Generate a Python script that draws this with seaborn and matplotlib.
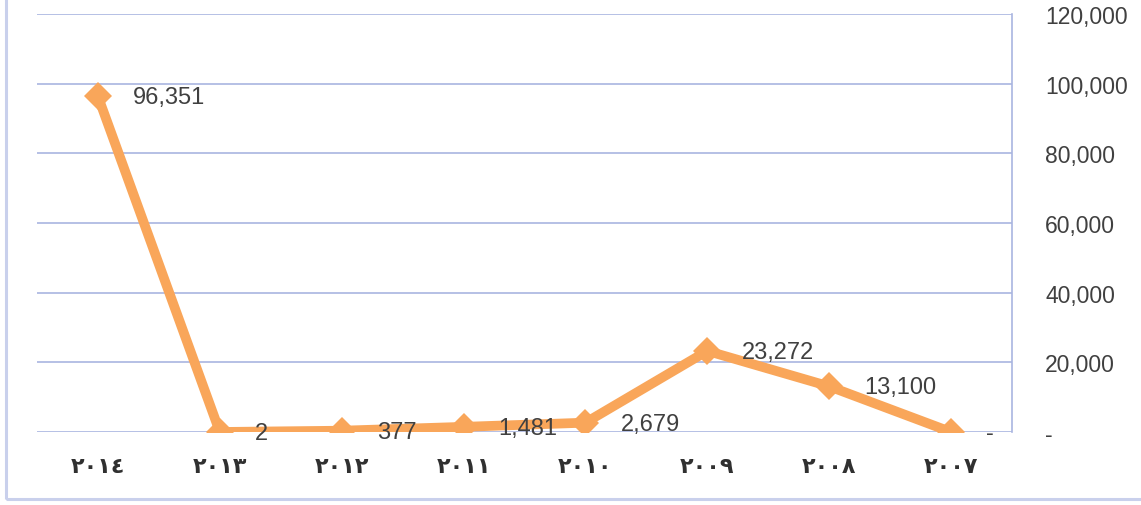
import matplotlib
matplotlib.use("Agg")
import matplotlib.pyplot as plt
import seaborn as sns
import pandas as pd
from matplotlib.patches import Rectangle

years = ["٢٠١٤", "٢٠١٣", "٢٠١٢", "٢٠١١", "٢٠١٠", "٢٠٠٩", "٢٠٠٨", "٢٠٠٧"]
values = [96351, 2, 377, 1481, 2679, 23272, 13100, 0]
data_labels = ["96,351", "2", "377", "1,481", "2,679", "23,272", "13,100", "-"]
yticks = [0, 20000, 40000, 60000, 80000, 100000, 120000]
ytick_labels = ["-", "20,000", "40,000", "60,000", "80,000", "100,000", "120,000"]

sns.set_theme(style="white")
plt.rcParams['font.family'] = ['Liberation Sans', 'DejaVu Sans']

df = pd.DataFrame({"year": years, "value": values})

fig = plt.figure(figsize=(11.41, 5.06), dpi=100)
ax = fig.add_axes([37/1141, 1 - 433/506, (1012 - 37)/1141, (433 - 15)/506])

line_color = "#F9A65A"
grid_color = "#A9B5E0"

sns.lineplot(data=df, x="year", y="value", ax=ax, color=line_color, linewidth=7,
             marker="D", markersize=14.5, markeredgewidth=0, sort=False)

ax.set_xlim(-0.5, len(years) - 0.5)
ax.set_ylim(0, 120000)
ax.set_yticks(yticks)
ax.set_yticklabels(ytick_labels)
ax.yaxis.tick_right()
ax.tick_params(axis="y", length=0, pad=24, labelsize=16.5, labelcolor="#404040")
ax.tick_params(axis="x", length=0, pad=17, labelsize=16, labelcolor="#303030")
for lab in ax.get_xticklabels():
    lab.set_fontfamily("DejaVu Sans")
    lab.set_fontweight("bold")
ax.set_xlabel("")
ax.set_ylabel("")

ax.grid(axis="y", color=grid_color, linewidth=1.2)
ax.set_axisbelow(True)
for side in ["left", "top", "bottom"]:
    ax.spines[side].set_visible(False)
ax.spines["right"].set_visible(True)
ax.spines["right"].set_color(grid_color)
ax.spines["right"].set_linewidth(1.2)

for i, (v, t) in enumerate(zip(values, data_labels)):
    ax.annotate(t, (i, v), xytext=(35, -1), textcoords="offset pixels",
                ha="left", va="center", fontsize=17, color="#404040")

fig.patches.append(Rectangle((6/1141, 6/506), 1.2, 1.2, transform=fig.transFigure,
                             fill=False, edgecolor="#C9D0EC", linewidth=2.2))

fig.savefig("out.png", dpi=100, facecolor="white")
